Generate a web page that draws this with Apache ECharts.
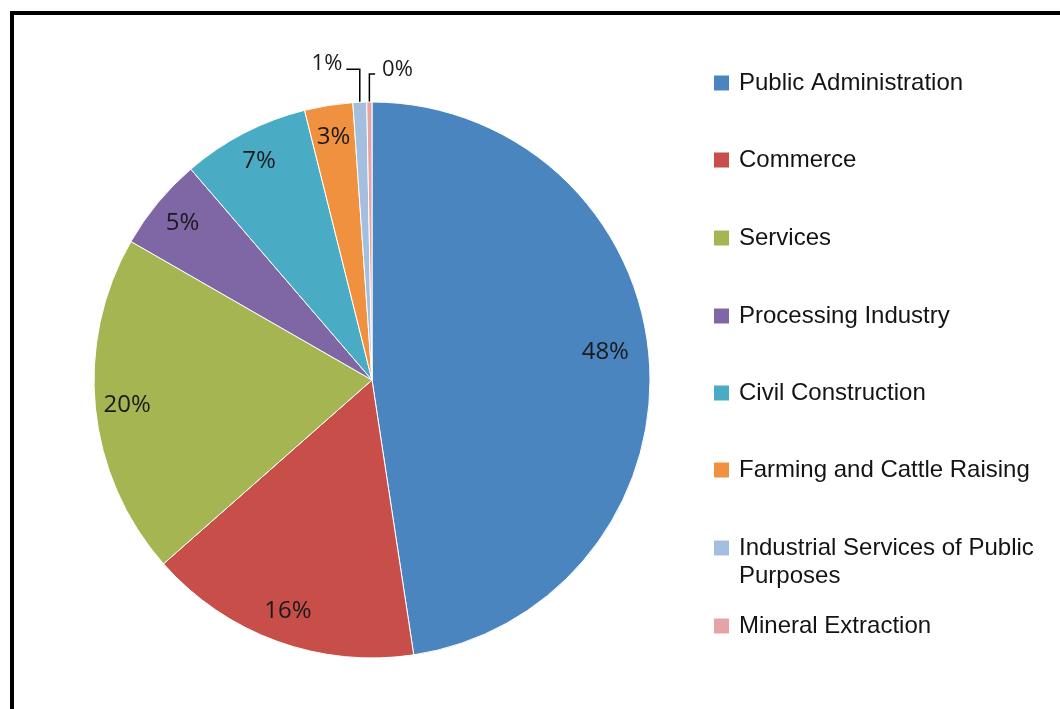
<!DOCTYPE html>
<html>
<head>
<meta charset="utf-8">
<style>
  html, body { margin: 0; padding: 0; background: #ffffff; }
  #chart { width: 1060px; height: 709px; }
</style>
<script src="https://cdn.jsdelivr.net/npm/echarts@6/dist/echarts.min.js"></script>
</head>
<body>
<div id="chart"></div>
<script>
// Employment share by economic sector (percent of total)
const categories = [
  'Public Administration',
  'Commerce',
  'Services',
  'Processing Industry',
  'Civil Construction',
  'Farming and Cattle Raising',
  'Industrial Services of Public Purposes',
  'Mineral Extraction'
];
const shares = [47.6, 15.9, 19.8, 5.4, 7.4, 2.8, 0.8, 0.3];
const sliceColors = ['#4A85C0', '#C84E4A', '#A5B552', '#7F67A6', '#4AABC5', '#F0913F', '#A3BEDF', '#E5A3A3'];
// legend text lines (the long name wraps onto two lines)
const legendLines = [
  ['Public Administration'],
  ['Commerce'],
  ['Services'],
  ['Processing Industry'],
  ['Civil Construction'],
  ['Farming and Cattle Raising'],
  ['Industrial Services of Public', 'Purposes'],
  ['Mineral Extraction']
];

const CENTER = [372, 380];
const RADIUS = 278;
const SMALL = 2; // slices below this share get an outside label with a leader line

const chart = echarts.init(document.getElementById('chart'), null, { renderer: 'canvas' });

const pctText = v => Math.round(v) + '%';
const lastIdx = categories.length - 1;

const mainData = categories.map((name, i) => {
  const small = shares[i] < SMALL;
  return {
    name,
    value: shares[i],
    itemStyle: { color: sliceColors[i] },
    label: { show: small },
    labelLine: small
      ? { show: true, length: i === lastIdx ? 28 : 33, length2: i === lastIdx ? 6 : 12 }
      : { show: false }
  };
});

const ringData = categories.map((name, i) => ({
  name,
  value: shares[i],
  label: i === 0
    ? { show: true, offset: [-12, -9] }
    : { show: shares[i] >= SMALL }
}));

// one legend block per category, stacked down the right side
const legendCenters = [82, 159, 237, 315, 392, 469, 547, 625];
const legends = categories.map((name, i) => {
  const lines = legendLines[i];
  const multi = lines.length > 1;
  // for wrapped names a blank spacer line on top keeps the swatch level with the first line
  const text = multi
    ? ['{s| }'].concat(lines.map(l => '{t|' + l + '}')).join('\n')
    : '{t|' + lines[0] + '}';
  return {
    orient: 'vertical',
    left: 712,
    top: multi ? legendCenters[i] - 32 : legendCenters[i] - 11,
    padding: 0,
    icon: 'rect',
    itemWidth: 17,
    itemHeight: 17,
    selectedMode: false,
    data: [name],
    formatter: () => text,
    textStyle: {
      color: '#141414',
      rich: {
        s: { fontSize: 10, lineHeight: 28 },
        t: {
          fontFamily: 'Liberation Sans, Arial, sans-serif',
          fontSize: 24,
          color: '#141414',
          lineHeight: 28,
          padding: [0, 0, 0, 4]
        }
      }
    }
  };
});

chart.setOption({
  backgroundColor: '#ffffff',
  animation: false,
  legend: legends,
  graphic: [{
    type: 'rect',
    shape: { x: 12, y: 13, width: 1200, height: 900 },
    style: { fill: 'none', stroke: '#000000', lineWidth: 4 },
    silent: true
  }],
  series: [
    {
      type: 'pie',
      name: 'sectors',
      center: CENTER,
      radius: RADIUS,
      startAngle: 90,
      clockwise: true,
      avoidLabelOverlap: false,
      itemStyle: { borderColor: '#ffffff', borderWidth: 1 },
      label: {
        position: 'outside',
        formatter: p => pctText(p.value),
        fontFamily: 'Open Sans, sans-serif',
        fontSize: 22,
        color: '#1a1a1a',
        distanceToLabelLine: 4
      },
      labelLine: { lineStyle: { color: '#000000', width: 1.5 }, smooth: false },
      labelLayout: params => {
        const pts = params.labelLinePoints;
        if (!pts) return {};
        const p0 = pts[0], p1 = pts[1];
        if (params.dataIndex === lastIdx) {
          // the last sliver sits right at the top; its label goes to the right
          const p2 = [p1[0] + 6, p1[1]];
          return {
            x: p2[0] + 7,
            y: p1[1] - 4,
            align: 'left',
            verticalAlign: 'middle',
            labelLinePoints: [p0, [p0[0], p1[1]], p2]
          };
        }
        const p2 = pts[2];
        return {
          x: p2[0] - 4,
          y: p1[1] - 6,
          align: 'right',
          verticalAlign: 'middle',
          labelLinePoints: [p0, [p0[0], p1[1]], p2]
        };
      },
      emphasis: { disabled: true },
      data: mainData
    },
    {
      // transparent ring that carries the in-slice percentage labels
      type: 'pie',
      name: 'labels',
      center: CENTER,
      radius: [208, RADIUS],
      startAngle: 90,
      clockwise: true,
      silent: true,
      avoidLabelOverlap: false,
      itemStyle: { color: 'rgba(0,0,0,0)' },
      label: {
        position: 'inside',
        formatter: p => pctText(p.value),
        fontFamily: 'Open Sans, sans-serif',
        fontSize: 24,
        color: '#1a1a1a'
      },
      labelLine: { show: false },
      emphasis: { disabled: true },
      data: ringData
    }
  ]
});
</script>
</body>
</html>
